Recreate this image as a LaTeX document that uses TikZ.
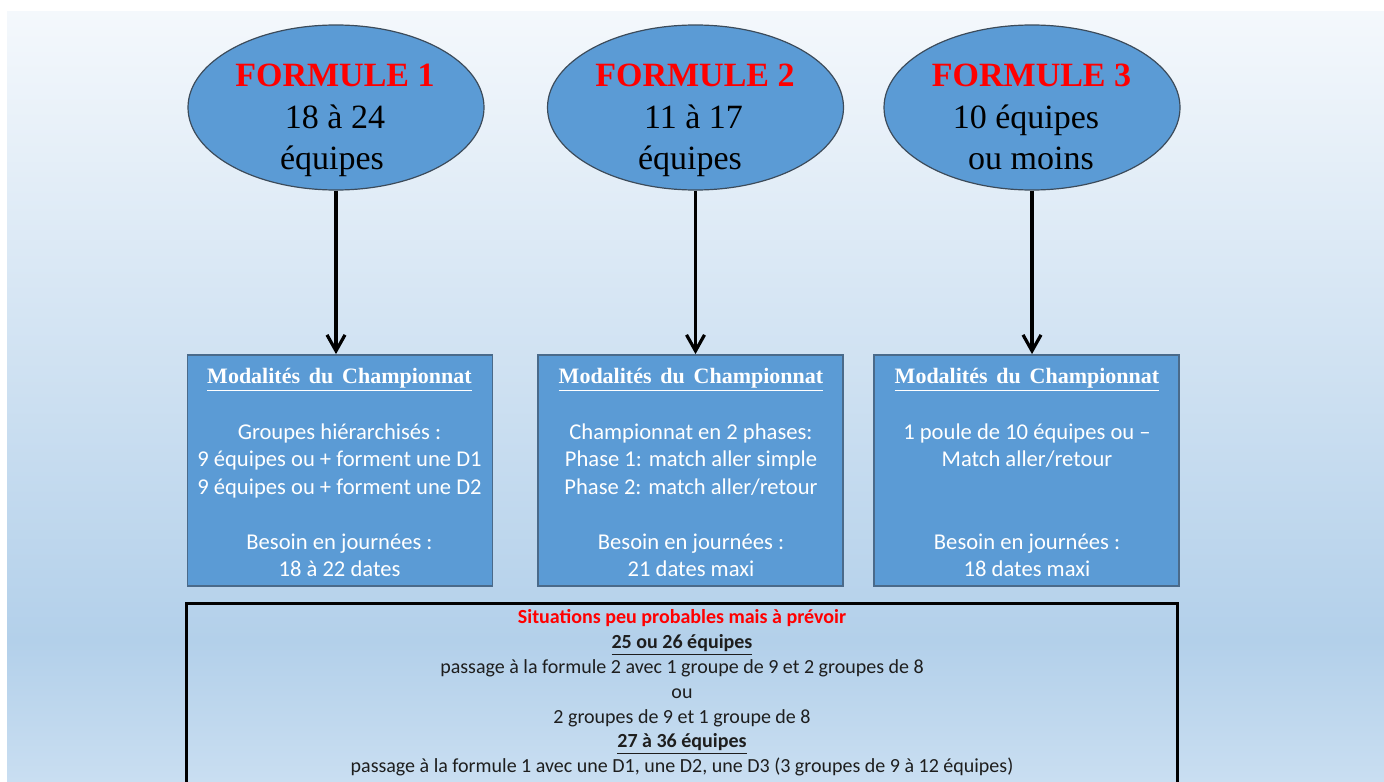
\documentclass[tikz,border=0pt]{standalone}
\usepackage{fontspec}
\setmainfont{Carlito}
\newfontfamily\tnr{Liberation Serif}
\usetikzlibrary{shapes.geometric,arrows.meta}
\definecolor{fillblue}{HTML}{5B9BD5}
\definecolor{elledge}{HTML}{3C4B5A}
\definecolor{boxedge}{HTML}{4A6A8A}
\definecolor{bgtop}{HTML}{F4F8FC}
\definecolor{bgmid}{HTML}{B3D0EA}
\definecolor{bgbot}{HTML}{C9DEF1}
\definecolor{txtdark}{HTML}{1E1E1E}
\definecolor{fred}{HTML}{FF0000}
\tikzset{
  ell/.style={ellipse, draw=elledge, line width=0.6pt, fill=fillblue,
    minimum width=148pt, minimum height=82.5pt, inner sep=0pt},
  mbox/.style={rectangle, draw=boxedge, line width=0.9pt, fill=fillblue,
    minimum width=152.5pt, minimum height=115.5pt, inner sep=0pt},
  sitbox/.style={rectangle, draw=black, line width=1.8pt,
    minimum width=495.5pt, minimum height=110pt, inner sep=0pt},
  arr/.style={line width=1.6pt, -{Straight Barb[length=8pt,width=9pt]}},
  ftitle/.style={anchor=base, inner sep=0pt, text=fred,
    font=\tnr\bfseries\fontsize{17}{20}\selectfont},
  ftext/.style={anchor=base, inner sep=0pt, text=black,
    font=\tnr\fontsize{17}{20}\selectfont},
  hd/.style={anchor=base, inner sep=0pt, text=white,
    font=\tnr\bfseries\fontsize{11}{13}\selectfont},
  bt/.style={anchor=base, inner sep=0pt, text=white,
    font=\fontsize{11.3}{13.75}\selectfont},
  sit/.style={anchor=base, inner sep=0pt, text=txtdark,
    font=\fontsize{10}{12}\selectfont},
  sitred/.style={anchor=base, inner sep=0pt, text=fred,
    font=\bfseries\fontsize{10}{12}\selectfont},
}
\newcommand{\modhead}{\underline{Modalités\hspace{0.4em}du\hspace{0.4em}Championnat}}
\begin{document}
\begin{tikzpicture}[x=0.5pt,y=-0.5pt]
\useasboundingbox (0,0) rectangle (1384,781);
% background
\fill[white] (0,0) rectangle (1384,781);
\shade[top color=bgtop, bottom color=bgmid] (7,12) rectangle (1384,640.5);
\shade[top color=bgmid, bottom color=bgbot] (7,640) rectangle (1384,781);

% ellipses
\node[ell] (e1) at (336,107.5) {};
\node[ell] (e2) at (695.5,107.5) {};
\node[ell] (e3) at (1032,107.5) {};

\node[ftitle] (e1t1) at (335,87) {FORMULE 1};
\node[ftext]  (e1t2) at (335,128) {18 à 24};
\node[ftext]  (e1t3) at (332,169) {équipes};

\node[ftitle] (e2t1) at (695,87) {FORMULE 2};
\node[ftext]  (e2t2) at (693.5,128) {11 à 17};
\node[ftext]  (e2t3) at (690,169) {équipes};

\node[ftitle] (e3t1) at (1031.5,87) {FORMULE 3};
\node[ftext]  (e3t2) at (1026,128) {10 équipes};
\node[ftext]  (e3t3) at (1031,169) {ou moins};

% boxes
\node[mbox] (b1) at (340,470.5) {};
\node[mbox] (b2) at (690.5,470.5) {};
\node[mbox] (b3) at (1026.5,470.5) {};

% arrows
\draw[arr] (e1.south) -- (e1.south |- b1.north);
\draw[arr] (e2.south) -- (e2.south |- b2.north);
\draw[arr] (e3.south) -- (e3.south |- b3.north);

% box 1 text
\node[hd] (b1h) at (339.5,383) {\modhead};
\node[bt] (b1l1) at (339.5,439) {Groupes hiérarchisés :};
\node[bt] (b1l2) at (339.5,466.5) {9 équipes ou + forment une D1};
\node[bt] (b1l3) at (339.5,494) {9 équipes ou + forment une D2};
\node[bt] (b1l4) at (339.5,549) {Besoin en journées :};
\node[bt] (b1l5) at (339.5,576.5) {18 à 22 dates};

% box 2 text
\node[hd] (b2h) at (691,383) {\modhead};
\node[bt] (b2l1) at (691,439) {Championnat en 2 phases:};
\node[bt] (b2l2) at (691,466.5) {Phase 1: match aller simple};
\node[bt] (b2l3) at (691,494) {Phase 2: match aller/retour};
\node[bt] (b2l4) at (691,549) {Besoin en journées :};
\node[bt] (b2l5) at (691,576.5) {21 dates maxi};

% box 3 text
\node[hd] (b3h) at (1027,383) {\modhead};
\node[bt] (b3l1) at (1027,439) {1 poule de 10 équipes ou –};
\node[bt] (b3l2) at (1027,466.5) {Match aller/retour};
\node[bt] (b3l4) at (1027,549) {Besoin en journées :};
\node[bt] (b3l5) at (1027,576.5) {18 dates maxi};

% bottom situation box
\node[sitbox, anchor=north] (sb) at (682,601.8) {};
\node[sitred] (s1) at (682,623) {Situations peu probables mais à prévoir};
\node[sit] (s2) at (682,648) {\underline{\textbf{25 ou 26 équipes}}};
\node[sit] (s3) at (682,673) {passage à la formule 2 avec 1 groupe de 9 et 2 groupes de 8};
\node[sit] (s4) at (682,698) {ou};
\node[sit] (s5) at (682,723) {2 groupes de 9 et 1 groupe de 8};
\node[sit] (s6) at (682,747) {\underline{\textbf{27 à 36 équipes}}};
\node[sit] (s7) at (682,772) {passage à la formule 1 avec une D1, une D2, une D3 (3 groupes de 9 à 12 équipes)};
\end{tikzpicture}
\end{document}
